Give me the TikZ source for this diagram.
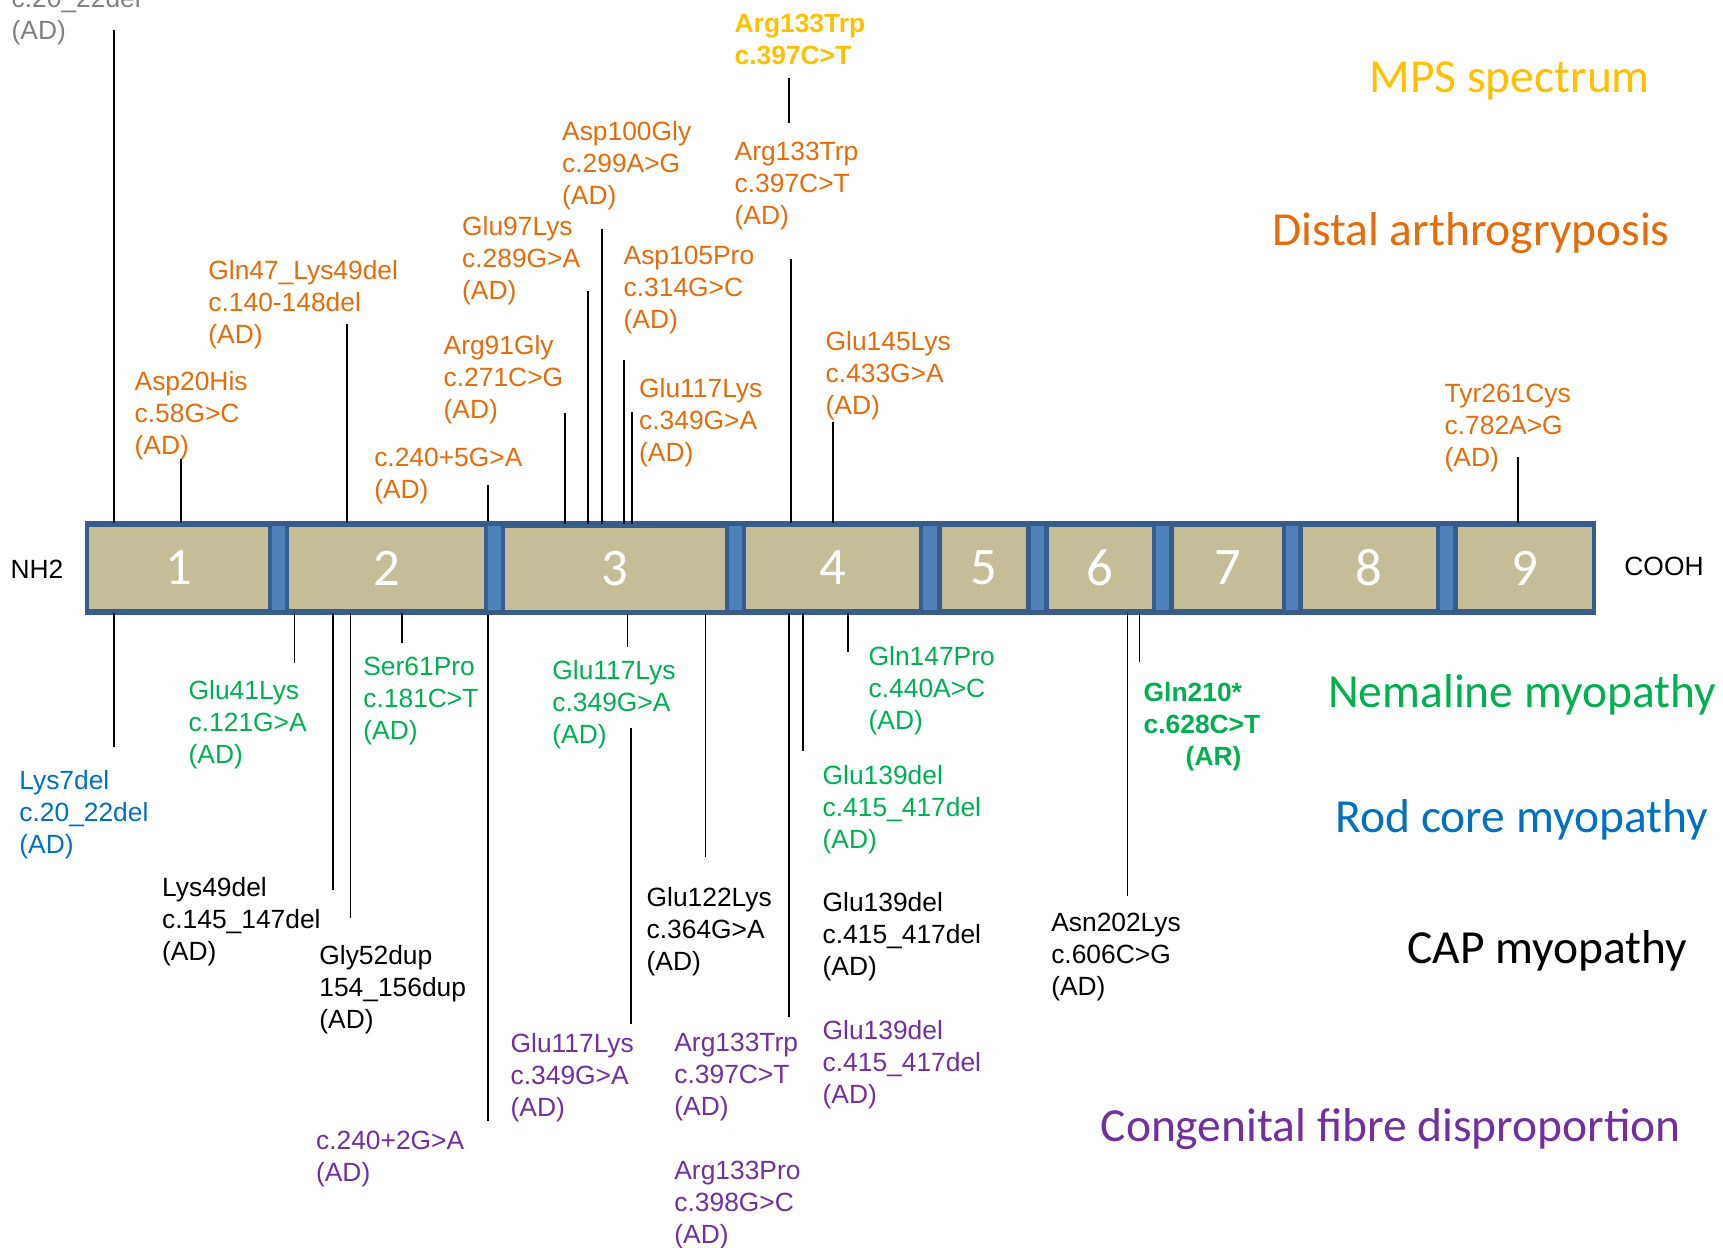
\documentclass[tikz,border=0pt]{standalone}
\usepackage{fontspec}
\setmainfont{Liberation Sans}
\newfontfamily\calibri{Carlito}
\usepackage{tikz}

\definecolor{distal}{HTML}{E46C0A}
\definecolor{mps}{HTML}{FFC000}
\definecolor{nemaline}{HTML}{00B050}
\definecolor{rodcore}{HTML}{0070C0}
\definecolor{cfdp}{HTML}{7030A0}
\definecolor{exontan}{HTML}{C4BD97}
\definecolor{exonedge}{HTML}{385D8A}
\definecolor{linker}{HTML}{4F81BD}

\begin{document}
\begin{tikzpicture}[x=0.01cm,y=-0.01cm,
    mut/.style={anchor=north west,inner sep=0pt,align=left,font=\fontsize{7.5}{9.1}\selectfont},
    exon/.style={draw=exonedge,line width=1.3pt,fill=exontan,text=white,inner sep=0pt,
                 minimum height=0.86cm,font=\calibri\fontsize{15}{18}\selectfont},
    disease/.style={anchor=base west,inner sep=0pt,font=\calibri\fontsize{13.5}{16}\selectfont},
    stem/.style={line width=0.5pt}]
    \useasboundingbox (0,0) rectangle (1723,1248);

    % protein bar and exons
    \node[draw=exonedge,line width=1.3pt,fill=linker,inner sep=0pt,
          minimum width=15.065cm,minimum height=0.895cm] (bar) at (840.5,568) {};
    \node[exon,minimum width=1.825cm] (e1) at (178.5,568) {1};
    \node[exon,minimum width=1.985cm] (e2) at (386.5,568) {2};
    \node[exon,minimum width=2.235cm] (e3) at (615,569) {3};
    \node[exon,minimum width=1.765cm] (e4) at (832.5,568) {4};
    \node[exon,minimum width=0.895cm] (e5) at (984,568) {5};
    \node[exon,minimum width=1.075cm] (e6) at (1100,568) {6};
    \node[exon,minimum width=1.125cm] (e7) at (1227.5,568) {7};
    \node[exon,minimum width=1.375cm] (e8) at (1369,568) {8};
    \node[exon,minimum width=1.385cm] (e9) at (1524.5,568) {9};
    \node[font=\fontsize{7.5}{9.1}\selectfont] (nterm) at (37,569) {NH2};
    \node[font=\fontsize{7.5}{9.1}\selectfont] (cterm) at (1664,566) {COOH};

    % disease groups
    \node[disease,text=mps] (lmps) at (1369,92) {MPS spectrum};
    \node[disease,text=distal] (ldist) at (1271.5,245) {Distal arthrogryposis};
    \node[disease,text=nemaline] (lnem) at (1327.5,707) {Nemaline myopathy};
    \node[disease,text=rodcore] (lrod) at (1335,832.5) {Rod core myopathy};
    \node[disease] (lcap) at (1406.7,963) {CAP myopathy};
    \node[disease,text=cfdp] (lcfd) at (1100,1141) {Congenital fibre disproportion};

    % mutations above the bar
    \node[mut,text=gray] (g7) at (11,-12.3) {c.20\_22del\\(AD)};
    \node[mut,text=mps,font=\bfseries\fontsize{7.5}{9.1}\selectfont] (y133) at (734,13) {Arg133Trp\\c.397C>T};
    \node[mut,text=distal] (d20) at (134,371) {Asp20His\\c.58G>C\\(AD)};
    \node[mut,text=distal] (d47) at (207.7,260) {Gln47\_Lys49del\\c.140-148del\\(AD)};
    \node[mut,text=distal] (d240) at (373.6,447) {c.240+5G>A\\(AD)};
    \node[mut,text=distal] (d91) at (443,335) {Arg91Gly\\c.271C>G\\(AD)};
    \node[mut,text=distal] (d97) at (461.5,216) {Glu97Lys\\c.289G>A\\(AD)};
    \node[mut,text=distal] (d100) at (561.5,121) {Asp100Gly\\c.299A>G\\(AD)};
    \node[mut,text=distal] (d105) at (623,245) {Asp105Pro\\c.314G>C\\(AD)};
    \node[mut,text=distal] (d117) at (638.5,378) {Glu117Lys\\c.349G>A\\(AD)};
    \node[mut,text=distal] (d133) at (734,141.6) {Arg133Trp\\c.397C>T\\(AD)};
    \node[mut,text=distal] (d145) at (825,330.7) {Glu145Lys\\c.433G>A\\(AD)};
    \node[mut,text=distal] (d261) at (1444,383) {Tyr261Cys\\c.782A>G\\(AD)};

    % mutations below the bar
    \node[mut,text=rodcore] (r7) at (18.7,770) {Lys7del\\c.20\_22del\\(AD)};
    \node[mut,text=nemaline] (n41) at (188,680) {Glu41Lys\\c.121G>A\\(AD)};
    \node[mut,text=nemaline] (n61) at (362.7,656) {Ser61Pro\\c.181C>T\\(AD)};
    \node[mut,text=nemaline] (n117) at (551.7,660) {Glu117Lys\\c.349G>A\\(AD)};
    \node[mut,text=nemaline] (n147) at (868,646) {Gln147Pro\\c.440A>C\\(AD)};
    \node[mut,text=nemaline] (n139) at (822,765) {Glu139del\\c.415\_417del\\(AD)};
    \node[mut,text=nemaline,font=\bfseries\fontsize{7.5}{9.1}\selectfont] (n210) at (1143,682)
        {Gln210*\\c.628C>T\\\hspace*{0.42cm}(AR)};
    \node[mut] (c49) at (161.5,877) {Lys49del\\c.145\_147del\\(AD)};
    \node[mut] (c52) at (318.7,945) {Gly52dup\\154\_156dup\\(AD)};
    \node[mut] (c122) at (646,887) {Glu122Lys\\c.364G>A\\(AD)};
    \node[mut] (c139) at (822,892) {Glu139del\\c.415\_417del\\(AD)};
    \node[mut] (c202) at (1050.6,912) {Asn202Lys\\c.606C>G\\(AD)};
    \node[mut,text=cfdp] (f117) at (510,1033) {Glu117Lys\\c.349G>A\\(AD)};
    \node[mut,text=cfdp] (f133) at (673.7,1032) {Arg133Trp\\c.397C>T\\(AD)};
    \node[mut,text=cfdp] (f139) at (822,1020) {Glu139del\\c.415\_417del\\(AD)};
    \node[mut,text=cfdp] (f240) at (315.4,1130) {c.240+2G>A\\(AD)};
    \node[mut,text=cfdp] (f133p) at (673.7,1160.4) {Arg133Pro\\c.398G>C\\(AD)};

    % stems above
    \coordinate (u7) at (114,30);
    \coordinate (u20) at (181,459);
    \coordinate (u47) at (347,324);
    \coordinate (u240) at (488,485);
    \coordinate (u91) at (565,413);
    \coordinate (u97) at (588,291);
    \coordinate (u100) at (602,229);
    \coordinate (u105) at (624,360);
    \coordinate (u117) at (632,412);
    \coordinate (u133) at (791,259);
    \coordinate (u145) at (833,422);
    \coordinate (u261) at (1518,457);
    \coordinate (y133a) at (789,78);
    \coordinate (y133b) at (789,123);
    \draw[stem] (u7) -- (u7 |- e1.north);
    \draw[stem] (u20) -- (u20 |- e1.north);
    \draw[stem] (u47) -- (u47 |- e2.north);
    \draw[stem] (u240) -- (u240 |- bar.north);
    \draw[stem] (u91) -- (u91 |- e3.north);
    \draw[stem] (u97) -- (u97 |- e3.north);
    \draw[stem] (u100) -- (u100 |- e3.north);
    \draw[stem] (u105) -- (u105 |- e3.north);
    \draw[stem] (u117) -- (u117 |- e3.north);
    \draw[stem] (u133) -- (u133 |- e4.north);
    \draw[stem] (u145) -- (u145 |- e4.north);
    \draw[stem] (u261) -- (u261 |- e9.north);
    \draw[stem] (y133a) -- (y133b);

    % stems below
    \coordinate (l7) at (114,747);
    \coordinate (l41) at (294.5,663);
    \coordinate (l49) at (333,890);
    \coordinate (l52) at (350.5,918);
    \coordinate (l61) at (402,643);
    \coordinate (l240) at (488,1121);
    \coordinate (l117) at (627.5,647);
    \coordinate (l122) at (705.5,857);
    \coordinate (l133) at (789,1016.5);
    \coordinate (l139) at (803,750.5);
    \coordinate (l147) at (848,651.7);
    \coordinate (l202) at (1127.5,895.6);
    \coordinate (l210) at (1139.6,661.6);
    \coordinate (m117a) at (631,727.5);
    \coordinate (m117b) at (631,1024);
    \draw[stem] (l7) -- (l7 |- e1.south);
    \draw[stem] (l41) -- (l41 |- e2.south);
    \draw[stem] (l49) -- (l49 |- e2.south);
    \draw[stem] (l52) -- (l52 |- e2.south);
    \draw[stem] (l61) -- (l61 |- e2.south);
    \draw[stem] (l240) -- (l240 |- bar.south);
    \draw[stem] (l117) -- (l117 |- e3.south);
    \draw[stem] (l122) -- (l122 |- e3.south);
    \draw[stem] (l133) -- (l133 |- e4.south);
    \draw[stem] (l139) -- (l139 |- e4.south);
    \draw[stem] (l147) -- (l147 |- e4.south);
    \draw[stem] (l202) -- (l202 |- e6.south);
    \draw[stem] (l210) -- (l210 |- e6.south);
    \draw[stem] (m117a) -- (m117b);
\end{tikzpicture}
\end{document}
